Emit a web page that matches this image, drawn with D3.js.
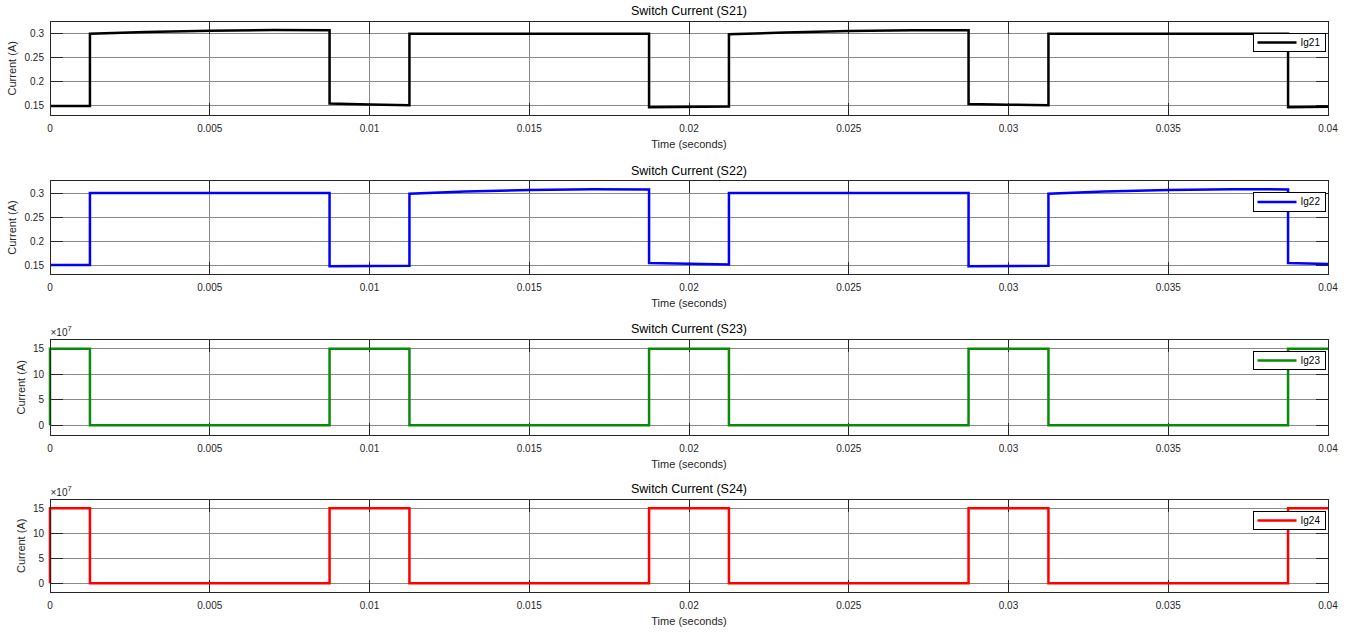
<!DOCTYPE html>
<html><head><meta charset="utf-8">
<script src="https://cdn.jsdelivr.net/npm/d3@7"></script>
<style>
html,body{margin:0;padding:0;background:#fff;}
svg{display:block;font-family:"Liberation Sans",Arial,Helvetica,sans-serif;}
</style></head>
<body><svg id="c" width="1350" height="637"></svg>
<script>
// ---- data ----
const titles = ["Switch Current (S21)", "Switch Current (S22)", "Switch Current (S23)", "Switch Current (S24)"];
const legendNames = ["Ig21", "Ig22", "Ig23", "Ig24"];
const colors = ["#000000", "#0000ff", "#0a8a0a", "#ff0000"];
const xTicks = [0, 0.005, 0.01, 0.015, 0.02, 0.025, 0.03, 0.035, 0.04];
const xTickLabels = ["0", "0.005", "0.01", "0.015", "0.02", "0.025", "0.03", "0.035", "0.04"];
const yTicksA = [0.15, 0.2, 0.25, 0.3];
const yTickLabelsA = ["0.15", "0.2", "0.25", "0.3"];
const yTicksB = [0, 5e7, 10e7, 15e7];
const yTickLabelsB = ["0", "5", "10", "15"];

const t21 = [0, 0.00125, 0.00125, 0.003, 0.005, 0.007, 0.00875, 0.00875, 0.01, 0.01125, 0.01125, 0.01875, 0.01875, 0.02125, 0.02125, 0.023, 0.025, 0.027, 0.02875, 0.02875, 0.03, 0.03125, 0.03125, 0.03875, 0.03875, 0.04];
const v21 = [0.150, 0.150, 0.300, 0.3035, 0.306, 0.3075, 0.307, 0.155, 0.153, 0.1515, 0.300, 0.300, 0.1473, 0.149, 0.2988, 0.3025, 0.3058, 0.3072, 0.307, 0.154, 0.1528, 0.1515, 0.300, 0.300, 0.1473, 0.1486];

const t22 = [0, 0.00125, 0.00125, 0.00875, 0.00875, 0.01125, 0.01125, 0.013, 0.015, 0.017, 0.01875, 0.01875, 0.02, 0.02125, 0.02125, 0.02875, 0.02875, 0.03125, 0.03125, 0.033, 0.035, 0.037, 0.03875, 0.03875, 0.04];
const v22 = [0.150, 0.150, 0.300, 0.300, 0.1475, 0.1485, 0.2985, 0.303, 0.3065, 0.308, 0.3075, 0.154, 0.1525, 0.151, 0.300, 0.300, 0.1475, 0.1485, 0.2985, 0.303, 0.3065, 0.308, 0.3075, 0.154, 0.152];

const t23 = [0, 0, 0.00125, 0.00125, 0.00875, 0.00875, 0.01125, 0.01125, 0.01875, 0.01875, 0.02125, 0.02125, 0.02875, 0.02875, 0.03125, 0.03125, 0.03875, 0.03875, 0.04];
const v23 = [0, 15e7, 15e7, 0, 0, 15e7, 15e7, 0, 0, 15e7, 15e7, 0, 0, 15e7, 15e7, 0, 0, 15e7, 15e7];

const t24 = [0, 0, 0.00125, 0.00125, 0.00875, 0.00875, 0.01125, 0.01125, 0.01875, 0.01875, 0.02125, 0.02125, 0.02875, 0.02875, 0.03125, 0.03125, 0.03875, 0.03875, 0.04];
const v24 = [0, 15e7, 15e7, 0, 0, 15e7, 15e7, 0, 0, 15e7, 15e7, 0, 0, 15e7, 15e7, 0, 0, 15e7, 15e7];

const yDomains = [[0.1307, 0.3257], [0.1307, 0.3257], [-1.96e7, 16.84e7], [-1.8e7, 16.8e7]];

// ---- layout ----
const L = 50, R = 1328;
const panels = [
  {top: 21.3, bottom: 115.3, t: t21, v: v21, yt: yTicksA, yl: yTickLabelsA, exp: false, ylabX: 15.5},
  {top: 180.7, bottom: 274.3, t: t22, v: v22, yt: yTicksA, yl: yTickLabelsA, exp: false, ylabX: 15.5},
  {top: 339.3, bottom: 435.3, t: t23, v: v23, yt: yTicksB, yl: yTickLabelsB, exp: true, ylabX: 25},
  {top: 499.3, bottom: 592.3, t: t24, v: v24, yt: yTicksB, yl: yTickLabelsB, exp: true, ylabX: 25}
];

const svg = d3.select("#c");
const tickLen = 12.5;
const axisCol = "#262626";
const gridCol = "#8a8a8a";
const tickFont = "10px", labFont = "11px", titleFont = "12.5px";

panels.forEach((p, i) => {
  const x = d3.scaleLinear().domain([0, 0.04]).range([L, R]);
  const y = d3.scaleLinear().domain(yDomains[i]).range([p.bottom, p.top]);
  const g = svg.append("g");

  // grid
  g.selectAll(".gx").data(xTicks).enter().append("line")
    .attr("x1", d => x(d)).attr("x2", d => x(d))
    .attr("y1", p.top).attr("y2", p.bottom)
    .attr("stroke", gridCol).attr("stroke-width", 1).attr("shape-rendering", "crispEdges");
  g.selectAll(".gy").data(p.yt).enter().append("line")
    .attr("x1", L).attr("x2", R)
    .attr("y1", d => y(d)).attr("y2", d => y(d))
    .attr("stroke", gridCol).attr("stroke-width", 1).attr("shape-rendering", "crispEdges");

  // ticks (inside, mirrored)
  const tk = g.append("g").attr("stroke", axisCol).attr("stroke-width", 1).attr("shape-rendering", "crispEdges");
  xTicks.forEach(d => {
    tk.append("line").attr("x1", x(d)).attr("x2", x(d)).attr("y1", p.bottom).attr("y2", p.bottom - tickLen);
    tk.append("line").attr("x1", x(d)).attr("x2", x(d)).attr("y1", p.top).attr("y2", p.top + tickLen);
  });
  p.yt.forEach(d => {
    tk.append("line").attr("x1", L).attr("x2", L + tickLen).attr("y1", y(d)).attr("y2", y(d));
    tk.append("line").attr("x1", R).attr("x2", R - tickLen).attr("y1", y(d)).attr("y2", y(d));
  });

  // data line
  const pts = p.t.map((t, k) => [t, p.v[k]]);
  const line = d3.line().x(d => x(d[0])).y(d => y(d[1]));
  g.append("path").datum(pts).attr("d", line)
    .attr("fill", "none").attr("stroke", colors[i]).attr("stroke-width", 2.5)
    .attr("stroke-linejoin", "miter");

  // box
  g.append("rect").attr("x", L).attr("y", p.top).attr("width", R - L).attr("height", p.bottom - p.top)
    .attr("fill", "none").attr("stroke", axisCol).attr("stroke-width", 1).attr("shape-rendering", "crispEdges");

  // x tick labels
  g.selectAll(".xl").data(xTicks).enter().append("text")
    .attr("x", d => x(d)).attr("y", p.bottom + 17)
    .attr("text-anchor", "middle").attr("font-size", tickFont).attr("fill", axisCol)
    .text((d, k) => xTickLabels[k]);
  // y tick labels
  g.selectAll(".yl").data(p.yt).enter().append("text")
    .attr("x", L - 6).attr("y", d => y(d)).attr("dy", "0.35em")
    .attr("text-anchor", "end").attr("font-size", tickFont).attr("fill", axisCol)
    .text((d, k) => p.yl[k]);

  // x label
  g.append("text").attr("x", (L + R) / 2).attr("y", p.bottom + 33)
    .attr("text-anchor", "middle").attr("font-size", labFont).attr("fill", axisCol)
    .text("Time (seconds)");
  // y label
  g.append("text")
    .attr("transform", `translate(${p.ylabX},${(p.top + p.bottom) / 2}) rotate(-90)`)
    .attr("text-anchor", "middle").attr("font-size", labFont).attr("fill", axisCol)
    .text("Current (A)");
  // title
  g.append("text").attr("x", (L + R) / 2).attr("y", p.top - 6)
    .attr("text-anchor", "middle").attr("font-size", titleFont).attr("fill", "#000")
    .text(titles[i]);

  // exponent
  if (p.exp) {
    const e = g.append("text").attr("x", L + 0.5).attr("y", p.top - 3.5)
      .attr("font-size", "10px").attr("fill", axisCol);
    e.append("tspan").text("\u00d710");
    e.append("tspan").attr("dy", "-4.5").attr("font-size", "7.5px").text("7");
  }

  // legend
  const lx = 1253.5, ly = p.top + 12, lw = 72, lh = 18.5;
  const lg = g.append("g");
  lg.append("rect").attr("x", lx).attr("y", ly).attr("width", lw).attr("height", lh)
    .attr("fill", "#fff").attr("stroke", "#000").attr("stroke-width", 1).attr("shape-rendering", "crispEdges");
  lg.append("line").attr("x1", lx + 4).attr("x2", lx + 43).attr("y1", ly + lh / 2).attr("y2", ly + lh / 2)
    .attr("stroke", colors[i]).attr("stroke-width", 2.5);
  lg.append("text").attr("x", lx + 47).attr("y", ly + lh / 2).attr("dy", "0.35em")
    .attr("font-size", tickFont).attr("fill", "#000").text(legendNames[i]);
});
</script>
</body></html>
